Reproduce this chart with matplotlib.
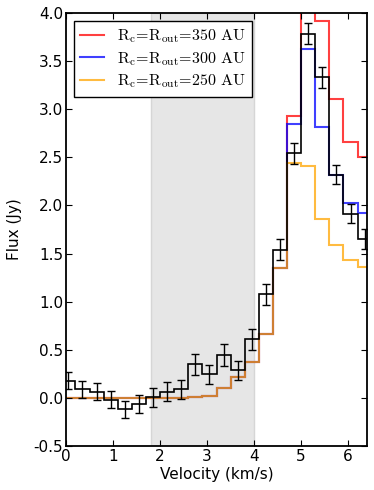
import numpy as np
import matplotlib
matplotlib.use("Agg")
import matplotlib.pyplot as plt

plt.rcParams["mathtext.fontset"] = "cm"

# channel centres (km/s), 0.3 km/s wide
vel = [0.05, 0.35, 0.65, 0.95, 1.25, 1.55, 1.85, 2.15, 2.45, 2.75, 3.05,
       3.35, 3.65, 3.95, 4.25, 4.55, 4.85, 5.15, 5.45, 5.75, 6.05, 6.35]
flux = [0.18, 0.09, 0.065, -0.02, -0.12, -0.065, 0.005, 0.065, 0.09, 0.35, 0.245,
        0.445, 0.285, 0.61, 1.075, 1.54, 2.54, 3.785, 3.33, 2.32, 1.915, 1.65]
err = [0.09, 0.09, 0.09, 0.09, 0.09, 0.09, 0.1, 0.1, 0.1, 0.11, 0.1,
       0.11, 0.1, 0.11, 0.11, 0.11, 0.11, 0.11, 0.11, 0.1, 0.1, 0.1]

mod350 = [0, 0, 0, 0, 0, 0, 0, 0, 0, 0.005, 0.02, 0.10, 0.22, 0.375, 0.665,
          1.35, 2.93, 4.3, 3.92, 3.11, 2.66, 2.50]
mod300 = [0, 0, 0, 0, 0, 0, 0, 0, 0, 0.005, 0.02, 0.10, 0.22, 0.375, 0.665,
          1.35, 2.85, 3.63, 2.81, 2.32, 2.03, 1.92]
mod250 = [0, 0, 0, 0, 0, 0, 0, 0, 0, 0.005, 0.02, 0.10, 0.22, 0.375, 0.665,
          1.35, 2.445, 2.405, 1.86, 1.59, 1.435, 1.365]
labels = [r"$\mathrm{R_c\!=\!R_{out}\!=\!350\ AU}$",
          r"$\mathrm{R_c\!=\!R_{out}\!=\!300\ AU}$",
          r"$\mathrm{R_c\!=\!R_{out}\!=\!250\ AU}$"]
colors = ["#ff0000", "#0000ff", "#ffa500"]

v = np.array(vel)
edges = np.append(v - 0.15, v[-1] + 0.15)

fig = plt.figure(figsize=(3.74, 4.90), dpi=100)
ax = fig.add_axes([0.1765, 0.0898, 0.8048, 0.8837])

ax.axvspan(1.8, 4.0, facecolor="#e6e6e6", edgecolor="#d6d6d6", lw=1, zorder=0)

for m, c, lab in zip([mod350, mod300, mod250], colors, labels):
    ax.stairs(m, edges, baseline=None, color=c, lw=1.5, alpha=0.75, label=lab)

ax.stairs(flux, edges, baseline=None, color="k", lw=1.2, zorder=3)
ax.errorbar(vel, flux, yerr=err, fmt="none", ecolor="k", elinewidth=1.0,
            capsize=3, capthick=1.0, zorder=3)

ax.set_xlim(0, 6.4)
ax.set_ylim(-0.5, 4.0)
ax.set_xticks([0, 1, 2, 3, 4, 5, 6])
ax.set_yticks(np.arange(-0.5, 4.01, 0.5))
ax.yaxis.set_major_formatter(matplotlib.ticker.FormatStrFormatter("%.1f"))
ax.tick_params(direction="in", top=True, right=True, length=4, width=0.8,
               labelsize=11, pad=2)
for s in ax.spines.values():
    s.set_linewidth(1.3)

ax.set_xlabel("Velocity (km/s)", fontsize=11, labelpad=2)
ax.set_ylabel("Flux (Jy)", fontsize=11, labelpad=8)

leg = ax.legend(loc="upper left", fontsize=11.5, fancybox=False, framealpha=1,
                edgecolor="k", handlelength=1.5, borderaxespad=0.5,
                labelspacing=0.3, handletextpad=0.8)
leg.get_frame().set_linewidth(1.0)

fig.savefig("out.png", dpi=100)
